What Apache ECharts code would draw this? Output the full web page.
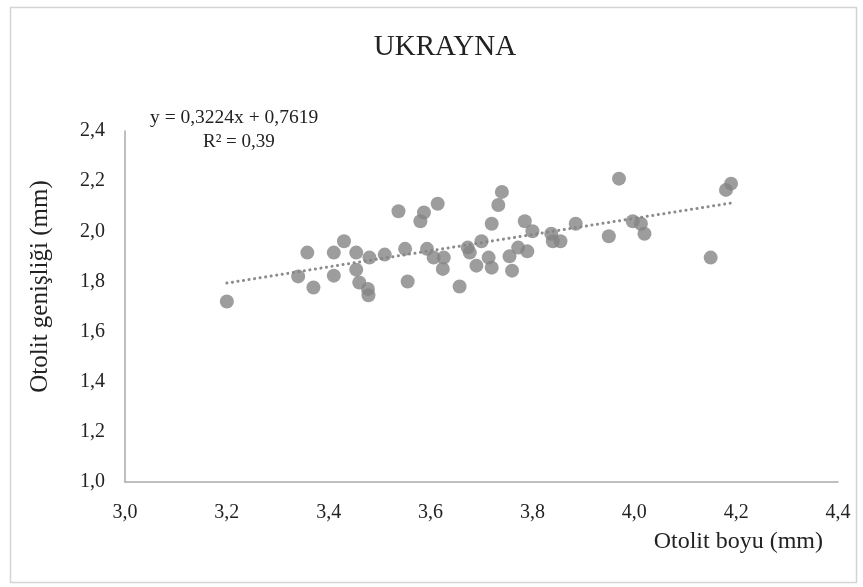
<!DOCTYPE html>
<html>
<head>
<meta charset="utf-8">
<script src="https://cdn.jsdelivr.net/npm/echarts@6/dist/echarts.min.js"></script>
<style>
html, body { margin: 0; padding: 0; background: #fff; }
#chart { width: 863px; height: 587px; }
</style>
</head>
<body>
<div id="chart"></div>
<script>
// otolit boyu (mm)
const boyu = [3.20, 3.34, 3.358, 3.37, 3.41, 3.41, 3.43, 3.454, 3.454, 3.46, 3.477, 3.478, 3.48, 3.51,
    3.537, 3.55, 3.555, 3.587, 3.58, 3.614, 3.593, 3.606, 3.626, 3.624, 3.657, 3.673, 3.677, 3.69,
    3.70, 3.714, 3.72, 3.72, 3.733, 3.74, 3.755, 3.76, 3.772, 3.79, 3.785, 3.80, 3.837, 3.855, 3.84,
    3.885, 3.97, 3.95, 3.997, 4.013, 4.02, 4.15, 4.18, 4.19];
// otolit genişliği (mm)
const genislik = [1.72, 1.82, 1.915, 1.776, 1.915, 1.823, 1.96, 1.915, 1.847, 1.796, 1.77, 1.745, 1.895, 1.907,
    2.08, 1.93, 1.80, 2.075, 2.04, 2.11, 1.93, 1.895, 1.895, 1.85, 1.78, 1.935, 1.915, 1.863,
    1.96, 1.895, 1.855, 2.03, 2.105, 2.157, 1.90, 1.843, 1.935, 1.92, 2.04, 2.00, 1.99, 1.96, 1.96,
    2.03, 2.21, 1.98, 2.04, 2.03, 1.99, 1.895, 2.165, 2.19];
// trend: y = 0,3224x + 0,7619
const egim = 0.3224;
const kesisim = 0.7619;
const trendX = [3.2, 4.19];

const noktalar = boyu.map((x, i) => [x, genislik[i]]);
const trend = trendX.map(x => [x, egim * x + kesisim]);

const virgul = v => v.toFixed(1).replace(".", ",");
const font = "Liberation Serif";

const chart = echarts.init(document.getElementById("chart"));
chart.setOption({
    animation: false,
    backgroundColor: "#fff",
    textStyle: { fontFamily: font },
    title: {
        text: "UKRAYNA",
        left: 440,
        textAlign: "center",
        top: 28,
        textStyle: { fontFamily: font, fontSize: 29, fontWeight: "normal", color: "#222" }
    },
    grid: { left: 125, right: 25, top: 131, bottom: 105 },
    xAxis: {
        type: "value",
        min: 3.0,
        max: 4.4,
        interval: 0.2,
        axisLine: { lineStyle: { color: "#aaa", width: 1.5 } },
        axisTick: { show: false },
        splitLine: { show: false },
        axisLabel: { formatter: virgul, fontSize: 20, color: "#222", margin: 21, fontFamily: font },
        name: "Otolit boyu (mm)",
        nameLocation: "end",
        nameGap: 0,
        nameTextStyle: {
            fontSize: 24, color: "#222", fontFamily: font,
            align: "right", verticalAlign: "top", padding: [48, 15, 0, 0]
        }
    },
    yAxis: {
        type: "value",
        min: 1.0,
        max: 2.4,
        interval: 0.2,
        axisLine: { show: true, lineStyle: { color: "#aaa", width: 1.5 } },
        axisTick: { show: false },
        splitLine: { show: false },
        axisLabel: { formatter: virgul, fontSize: 20, color: "#222", margin: 20, fontFamily: font },
        name: "Otolit genişliği (mm)",
        nameLocation: "middle",
        nameGap: 72,
        nameTextStyle: { fontSize: 25, color: "#222", fontFamily: font, padding: [0, 0, 0, 40] }
    },
    graphic: [
        {
            type: "rect",
            left: 8, top: 5,
            shape: { width: 846, height: 575 },
            style: { fill: "none", stroke: "#d4d4d4", lineWidth: 1.5 },
            silent: true
        },
        {
            type: "text",
            left: 150, top: 108,
            style: { text: "y = 0,3224x + 0,7619", font: "19.5px " + font, fill: "#222" }
        },
        {
            type: "text",
            left: 203, top: 133,
            style: { text: "R² = 0,39", font: "19px " + font, fill: "#222" }
        }
    ],
    series: [
        {
            type: "line",
            data: trend,
            symbol: "none",
            lineStyle: { color: "#8c8c8c", width: 3, type: [0.1, 5.5], cap: "round" },
            silent: true,
            z: 1
        },
        {
            type: "scatter",
            data: noktalar,
            symbol: "circle",
            symbolSize: 14,
            itemStyle: { color: "#858585" },
            silent: true,
            z: 2
        }
    ]
});
</script>
</body>
</html>
